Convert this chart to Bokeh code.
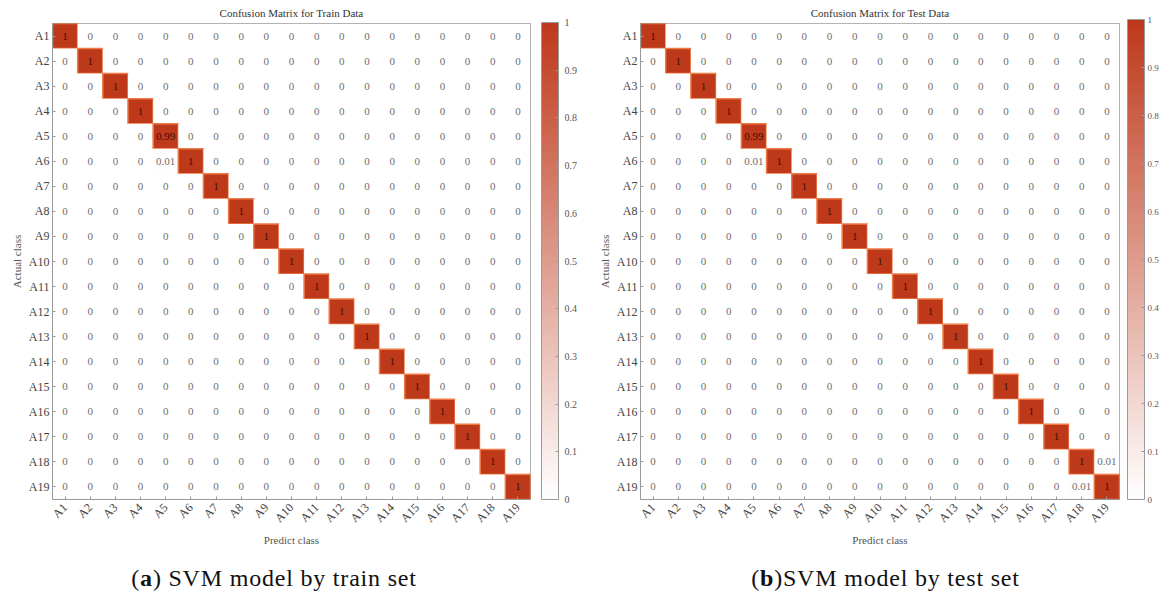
import numpy as np
from bokeh.plotting import figure
from bokeh.models import (ColumnDataSource, ColorBar, LinearColorMapper, FixedTicker,
                          PrintfTickFormatter, Div)
from bokeh.layouts import row, column
from bokeh.embed import file_html
from bokeh.resources import INLINE
from bokeh.core.properties import value

classes = ["A1", "A2", "A3", "A4", "A5", "A6", "A7", "A8", "A9", "A10",
           "A11", "A12", "A13", "A14", "A15", "A16", "A17", "A18", "A19"]

# diagonal values (actual == predicted), row = actual class
train_diag = [1, 1, 1, 1, 0.99, 1, 1, 1, 1, 1, 1, 1, 1, 1, 1, 1, 1, 1, 1]
# off-diagonal non-zero entries: (actual, predicted, value)
train_off = [("A6", "A5", 0.01)]

test_diag = [1, 1, 1, 1, 0.99, 1, 1, 1, 1, 1, 1, 1, 1, 1, 1, 1, 1, 1, 1]
test_off = [("A6", "A5", 0.01), ("A18", "A19", 0.01), ("A19", "A18", 0.01)]

colorbar_ticks = [0, 0.1, 0.2, 0.3, 0.4, 0.5, 0.6, 0.7, 0.8, 0.9, 1]

SERIF = "'Times New Roman', 'Liberation Serif', 'DejaVu Serif', serif"
RED = (190, 56, 26)
palette = []
for i in range(256):
    t = i / 255
    r = round(255 + (RED[0] - 255) * t)
    g = round(255 + (RED[1] - 255) * t)
    b = round(255 + (RED[2] - 255) * t)
    palette.append("#%02x%02x%02x" % (r, g, b))


def build_source(diag, off):
    vals = {}
    for c, v in zip(classes, diag):
        vals[(c, c)] = v
    for a, pr, v in off:
        vals[(a, pr)] = v
    xs, ys, vs, txt, tcol, lcol = [], [], [], [], [], []
    for a in classes:
        for pr in classes:
            v = vals.get((a, pr), 0)
            xs.append(pr)
            ys.append(a)
            vs.append(v)
            txt.append(f"{v:g}")
            tcol.append("#3a1208" if v >= 0.5 else "#6e6e6e")
            lcol.append("#ee7a45" if v >= 0.5 else None)
    return ColumnDataSource(dict(x=xs, y=ys, v=vs, txt=txt, tcol=tcol, lcol=lcol))


def make_panel(title, diag, off, width, height, left, right, top, bottom,
               cb_x, cb_width, cb_height, cb_font, cb_standoff):
    p = figure(width=width, height=height, x_range=classes,
               y_range=list(reversed(classes)), output_backend="svg",
               toolbar_location=None, tools="",
               min_border_left=left, min_border_right=right,
               min_border_top=top, min_border_bottom=bottom)
    p.title.text = title
    p.title.align = "center"
    p.title.text_font = SERIF
    p.title.text_font_size = "11px"
    p.title.text_font_style = "normal"
    p.title.text_color = "#333333"
    p.title.standoff = 9
    src = build_source(diag, off)
    mapper = LinearColorMapper(palette=palette, low=0, high=1)
    p.rect(x="x", y="y", width=1, height=1, source=src,
           fill_color={"field": "v", "transform": mapper},
           line_color="lcol", line_width=1.5)
    p.text(x="x", y="y", text="txt", source=src, text_align="center",
           text_baseline="middle", text_font=value(SERIF), text_font_size="11px",
           text_color="tcol")
    p.grid.visible = False
    p.outline_line_color = "#9a9a9a"
    for ax in (p.xaxis, p.yaxis):
        ax.axis_line_color = "#9a9a9a"
        ax.major_tick_line_color = "#9a9a9a"
        ax.major_tick_in = 3
        ax.major_tick_out = 0
        ax.major_label_text_font = SERIF
        ax.major_label_text_font_size = "12px"
        ax.major_label_text_color = "#444444"
        ax.axis_label_text_font = SERIF
        ax.axis_label_text_font_size = "11px"
        ax.axis_label_text_font_style = "normal"
        ax.axis_label_text_color = "#555555"
        ax.major_label_standoff = 3
        ax.axis_label_standoff = 3
    p.xaxis.major_label_standoff = 6
    p.xaxis.axis_label_standoff = 1
    p.xaxis.major_label_orientation = np.pi / 4
    p.xaxis.axis_label = "Predict class"
    p.yaxis.axis_label = "Actual class"
    cb = ColorBar(color_mapper=mapper, ticker=FixedTicker(ticks=colorbar_ticks),
                  formatter=PrintfTickFormatter(format="%g"),
                  width=cb_width, height=cb_height, padding=0, margin=0,
                  location=(cb_x, 0),
                  major_label_text_font=SERIF, major_label_text_font_size=cb_font,
                  major_label_text_color="#555555", label_standoff=cb_standoff,
                  major_tick_line_color="#9a9a9a", major_tick_in=3, major_tick_out=0,
                  bar_line_color="#9a9a9a", border_line_color=None,
                  background_fill_color=None)
    p.add_layout(cb, "right")
    return p


p1 = make_panel("Confusion Matrix for Train Data", train_diag, train_off,
                580, 550, 52, 50, 22, 51, 11, 17, 477, "10px", 6)
p2 = make_panel("Confusion Matrix for Test Data", test_diag, test_off,
                581, 550, 60, 41, 23, 47, 8, 17, 480, "9px", 3)

cap_style = ("font-family:'Palatino Linotype','Times New Roman','Liberation Serif',serif;"
             "font-size:24px;letter-spacing:0.8px;color:#111;text-align:center;box-sizing:border-box;")
d1 = Div(text=f'<div style="{cap_style}width:580px;padding-right:42px;padding-top:6px;">(<b>a</b>) SVM model by train set</div>',
         width=580, height=47)
d2 = Div(text=f'<div style="{cap_style}width:581px;padding-left:0px;padding-top:6px;">(<b>b</b>)SVM model by test set</div>',
         width=581, height=47)

layout = column(row(p1, p2), row(d1, d2))
open("out.html", "w").write(file_html(layout, INLINE))
